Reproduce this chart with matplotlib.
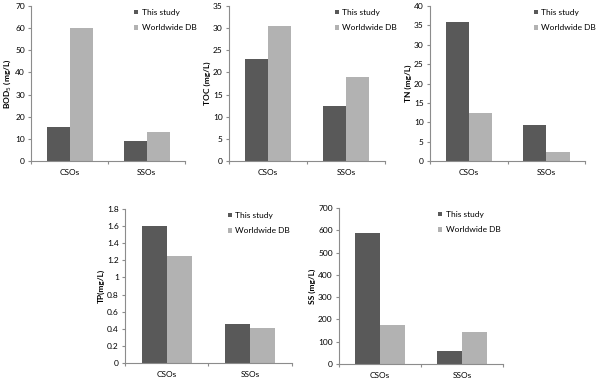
import numpy as np
import matplotlib
matplotlib.use('Agg')
import matplotlib.pyplot as plt

plt.rcParams['font.family'] = ['Lato', 'DejaVu Sans']

# ── data ──────────────────────────────────────────────────────────
categories = ['CSOs', 'SSOs']
series = ['This study', 'Worldwide DB']

bod_study = [15.3, 9.2]
bod_world = [60.0, 13.0]
toc_study = [23.0, 12.5]
toc_world = [30.5, 19.0]
tn_study = [36.0, 9.4]
tn_world = [12.5, 2.4]
tp_study = [1.60, 0.46]
tp_world = [1.25, 0.41]
ss_study = [588, 60]
ss_world = [173, 142]

dark, light = '#595959', '#b2b2b2'
axis_col = '#8c8c8c'

panels = [
    # values, ylabel, ymax, ystep, rect, legend x
    (bod_study, bod_world, 'BOD$_5$ (mg/L)', 70, 10, [0.052, 0.5774, 0.2567, 0.4068], 0.62),
    (toc_study, toc_world, 'TOC (mg/L)', 35, 5, [0.3817, 0.5774, 0.2600, 0.4068], 0.63),
    (tn_study, tn_world, 'TN (mg/L)', 40, 5, [0.7167, 0.5774, 0.2583, 0.4068], 0.62),
    (tp_study, tp_world, 'TP(mg/L)', 1.8, 0.2, [0.2083, 0.0472, 0.2783, 0.4042], 0.57),
    (ss_study, ss_world, 'SS (mg/L)', 700, 100, [0.5650, 0.0446, 0.2733, 0.4094], 0.56),
]

fig = plt.figure(figsize=(6, 3.81), dpi=100)
x = np.arange(len(categories))
w = 0.3
fs = 6

for study, world, ylab, ymax, ystep, rect, lx in panels:
    ax = fig.add_axes(rect)
    ax.bar(x - w / 2, study, w, color=dark, label=series[0])
    ax.bar(x + w / 2, world, w, color=light, label=series[1])
    ax.set_xlim(-0.5, 1.5)
    ax.set_ylim(0, ymax)
    yt = np.arange(0, ymax + ystep / 2, ystep)
    ax.set_yticks(yt)
    ax.set_yticklabels([f'{v:g}' for v in yt])
    ax.set_xticks([-0.5, 0.5, 1.5])
    ax.set_xticklabels([])
    ax.set_xticks(x, minor=True)
    ax.set_xticklabels(categories, minor=True)
    ax.tick_params(axis='x', which='minor', length=0, labelsize=fs, pad=6)
    ax.tick_params(axis='x', which='major', length=2.5, color=axis_col)
    ax.tick_params(axis='y', length=2.5, color=axis_col, labelsize=fs, pad=2)
    for s in ['top', 'right']:
        ax.spines[s].set_visible(False)
    for s in ['left', 'bottom']:
        ax.spines[s].set_color(axis_col)
        ax.spines[s].set_linewidth(0.8)
    ax.set_ylabel(ylab, fontsize=fs, fontweight='bold', labelpad=1.5)
    ax.legend(loc='upper left', bbox_to_anchor=(lx, 1.03), frameon=False,
              fontsize=fs, handlelength=0.5, handleheight=0.5,
              handletextpad=0.4, labelspacing=1.0)

fig.savefig('out.png', dpi=100)
